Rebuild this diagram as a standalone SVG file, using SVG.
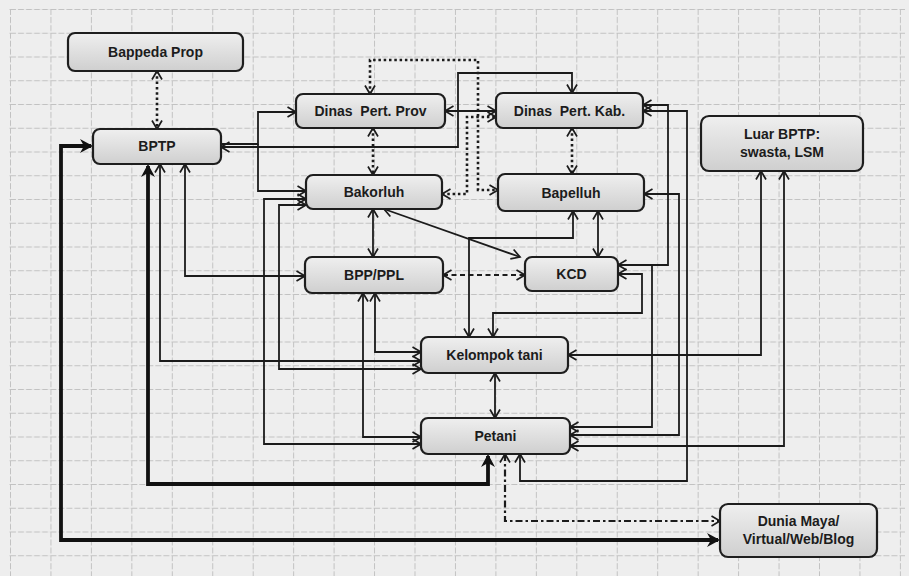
<svg xmlns="http://www.w3.org/2000/svg" width="909" height="576" viewBox="0 0 909 576">
<defs>
<style>
.c{fill:none;stroke:#1b1b1b;stroke-width:1.8}
.t{fill:none;stroke:#111;stroke-width:3.8}
.d{fill:none;stroke:#1b1b1b;stroke-width:2.6;stroke-dasharray:2.5 2.8}
.dd{fill:none;stroke:#1b1b1b;stroke-width:2.2;stroke-dasharray:5 3.5}
.dc{fill:none;stroke:#1b1b1b;stroke-width:2.2;stroke-dasharray:7 3 2.5 3}
.b{marker-start:url(#a);marker-end:url(#a)}
.e{marker-end:url(#a)}
.tb{marker-start:url(#at);marker-end:url(#at)}
.n rect{fill:url(#ng);stroke:#1e1e1e;stroke-width:2.2}
.n text{font-family:"Liberation Sans",Arial,sans-serif;font-size:14px;font-weight:bold;fill:#1c1c1c;text-anchor:middle}
</style>
<linearGradient id="ng" x1="0" y1="0" x2="0" y2="1">
<stop offset="0" stop-color="#efefef"/>
<stop offset="1" stop-color="#cfcfcf"/>
</linearGradient>
<pattern id="grid" x="10" y="9" width="40.45" height="23.75" patternUnits="userSpaceOnUse">
<path d="M0,0.5 H40.45 M0.5,0 V23.75" fill="none" stroke="#c2c2c2" stroke-width="1" stroke-dasharray="6 2"/>
</pattern>
<marker id="a" viewBox="-11 -7 13 14" refX="0" refY="0" markerWidth="13" markerHeight="14" markerUnits="userSpaceOnUse" orient="auto-start-reverse">
<path d="M-8.5,-5 L0,0 L-8.5,5" fill="none" stroke="#1b1b1b" stroke-width="1.7"/>
</marker>
<marker id="at" viewBox="-14 -9 17 18" refX="0" refY="0" markerWidth="17" markerHeight="18" markerUnits="userSpaceOnUse" orient="auto-start-reverse">
<path d="M-11,-7 L2,0 L-11,7 L-7,0 Z" fill="#111"/>
</marker>
</defs>
<rect width="909" height="576" fill="#eeeeee"/>
<rect x="8" y="8" width="897" height="568" fill="url(#grid)"/>

<g id="connectors">
<path class="d b" d="M157,71 V129"/>
<path class="c e" d="M221,144 H258 V112 H296"/>
<path class="c e" d="M258,144 V191 H306"/>
<path class="c b" d="M221,147 H458 V73 H572 V93"/>
<path class="c b" d="M445,111 H496"/>
<path class="d b" d="M370,94 V60 H478 V190 H498"/>
<path class="d b" d="M442,194 H467 V117 H496"/>
<path class="d b" d="M373,128 V175"/>
<path class="d b" d="M572,128 V174"/>
<path class="c b" d="M373,209 V257"/>
<path class="c b" d="M384,209 L520,257"/>
<path class="c b" d="M598,211 V257"/>
<path class="dd b" d="M443,275 H525"/>
<path class="c b" d="M185,164 V276 H305"/>
<path class="c b" d="M160,164 V361 H421"/>
<path class="t tb" d="M148,166 V484 H488 V456"/>
<path class="t tb" d="M91,146 H61 V540 H718"/>
<path class="dc b" d="M505,454 V521 H720"/>
<path class="c b" d="M306,199 H264 V444 H421"/>
<path class="c b" d="M306,205 H279 V369 H421"/>
<path class="c b" d="M375,293 V352 H421"/>
<path class="c b" d="M363,293 V437 H421"/>
<path class="c b" d="M495,373 V418"/>
<path class="c b" d="M573,211 V238 H469 V337"/>
<path class="c b" d="M618,274 H642 V313 H493 V337"/>
<path class="c b" d="M643,105 H668 V265 H618"/>
<path class="c e" d="M652,265 V427 H570"/>
<path class="c b" d="M644,194 H679 V435 H570"/>
<path class="c b" d="M643,111 H687 V481 H520 V454"/>
<path class="c b" d="M761,171 V355 H568"/>
<path class="c b" d="M784,171 V446 H570"/>
</g>

<g id="bappeda" class="n"><rect x="68" y="33" width="175" height="38" rx="7"/><text x="155.5" y="57">Bappeda Prop</text></g>
<g id="bptp" class="n"><rect x="93" y="129" width="128" height="35" rx="7"/><text x="157" y="151">BPTP</text></g>
<g id="dinas-prov" class="n"><rect x="296" y="94" width="149" height="34" rx="7"/><text x="370.5" y="116" xml:space="preserve">Dinas  Pert. Prov</text></g>
<g id="dinas-kab" class="n"><rect x="496" y="93" width="147" height="35" rx="7"/><text x="569.5" y="115.5" xml:space="preserve">Dinas  Pert. Kab.</text></g>
<g id="bakorluh" class="n"><rect x="306" y="175" width="136" height="34" rx="7"/><text x="374" y="197">Bakorluh</text></g>
<g id="bapelluh" class="n"><rect x="498" y="174" width="146" height="37" rx="7"/><text x="571" y="197.5">Bapelluh</text></g>
<g id="bpp-ppl" class="n"><rect x="305" y="257" width="138" height="36" rx="7"/><text x="374" y="280">BPP/PPL</text></g>
<g id="kcd" class="n"><rect x="525" y="257" width="93" height="34" rx="7"/><text x="571.5" y="279">KCD</text></g>
<g id="luar-bptp" class="n"><rect x="701" y="116" width="162" height="55" rx="8"/><text x="782" y="139">Luar BPTP:</text><text x="782" y="157">swasta, LSM</text></g>
<g id="kelompok-tani" class="n"><rect x="421" y="337" width="147" height="36" rx="7"/><text x="494.5" y="360">Kelompok tani</text></g>
<g id="petani" class="n"><rect x="421" y="418" width="149" height="36" rx="7"/><text x="495.5" y="441">Petani</text></g>
<g id="dunia-maya" class="n"><rect x="720" y="504" width="157" height="53" rx="8"/><text x="798.5" y="526">Dunia Maya/</text><text x="798.5" y="544">Virtual/Web/Blog</text></g>
</svg>
